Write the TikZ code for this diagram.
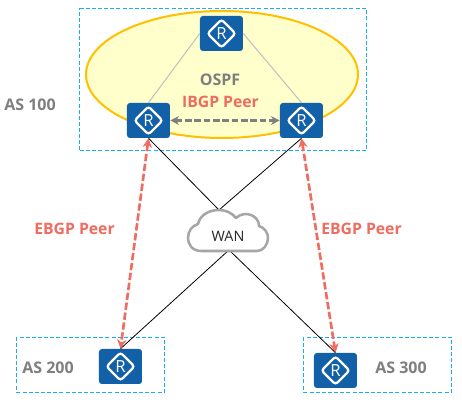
\documentclass[tikz,border=0pt]{standalone}
\usepackage{fontspec}
\setmainfont{Open Sans}
\usetikzlibrary{arrows.meta}
\definecolor{rblue}{HTML}{1160A8}
\definecolor{boxblue}{HTML}{16B0EE}
\definecolor{peer}{HTML}{EF6C60}
\definecolor{gtxt}{HTML}{7F7F7F}
\definecolor{areafill}{HTML}{FFFFCC}
\definecolor{arealine}{HTML}{FFC000}
\tikzset{
  x=0.75pt,y=-0.75pt,
  router/.style={rectangle,rounded corners=2.2pt,fill=rblue,minimum width=32.25pt,minimum height=26.25pt,inner sep=0pt,text=white,font=\fontsize{12.5}{14}\selectfont,
    path picture={\draw[white,line width=1.7pt,line join=miter] (path picture bounding box.center) +(-10.5pt,0) -- +(0,10.5pt) -- +(10.5pt,0) -- +(0,-10.5pt) -- cycle;}},
  asbox/.style={rectangle,inner sep=0pt,draw=boxblue,dash pattern=on 3pt off 1.6pt,line width=0.75pt},
  lbl/.style={font=\bfseries\fontsize{12}{14}\selectfont,text=gtxt,inner sep=0pt},
  peerlbl/.style={font=\bfseries\fontsize{11.8}{14}\selectfont,text=peer,inner sep=0pt},
  wire/.style={black,line width=0.6pt},
  igp/.style={draw=black!25,line width=0.75pt},
  ebgp/.style={{Stealth[length=7pt,width=7pt]}-{Stealth[length=7pt,width=7pt]},peer,line width=2pt,dash pattern=on 5.5pt off 2pt},
  ibgp/.style={{Stealth[length=6.5pt,width=6.5pt]}-{Stealth[length=6.5pt,width=6.5pt]},gtxt,line width=2pt,dash pattern=on 5pt off 2pt},
}
\begin{document}
\begin{tikzpicture}
\useasboundingbox (0,0) rectangle (462,402);
\fill[white] (0,0) rectangle (462,402);
% AS boxes and the OSPF area
\node[asbox,minimum width=214.9pt,minimum height=106.5pt] (as100) at (223.25,80) {};
\node[asbox,minimum width=111pt,minimum height=40.9pt] (as200) at (90.5,364.75) {};
\node[asbox,minimum width=111pt,minimum height=40.9pt] (as300) at (377.5,364.75) {};
\draw[fill=areafill,draw=arealine,line width=1.5pt] (222,74.5) ellipse [x radius=136,y radius=63.5];
% routers
\node[router] (top) at (221.5,33.5) {R};
\node[router] (left) at (148.5,120.5) {R};
\node[router] (right) at (301.5,120.5) {R};
\node[router] (bl) at (120.5,366.5) {R};
\node[router] (br) at (335.5,370.5) {R};
% cloud anchors
\coordinate (cloudtop) at (219,210);
\coordinate (cloudbot) at (229,250);
% connectors
\draw[igp] (top.west) -- (left.north);
\draw[igp] (top.east) -- (right.north);
\draw[wire] (left.south) -- (cloudtop);
\draw[wire] (right.south) -- (cloudtop);
\draw[wire] (cloudbot) -- (bl.north);
\draw[wire] (cloudbot) -- (br.north);
% cloud
\draw[fill=white,draw=black!35,line width=1.9pt,line join=round]
  (201,251) .. controls (192,251) and (188,244) .. (188,238)
  .. controls (188,231) and (192,226) .. (198,224)
  .. controls (200,215) and (209,210) .. (219,210)
  .. controls (226,210) and (232,213) .. (236,218)
  .. controls (240,214) and (247,213) .. (251,215)
  .. controls (256,217) and (259,221) .. (259,226)
  .. controls (265,228) and (268,233) .. (268,238)
  .. controls (268,245) and (263,251) .. (257,251) -- cycle;
\node[inner sep=0pt,font=\fontsize{10.8}{12}\selectfont,text=black!85] (wan) at (228,236) {WAN};
% peer arrows
\draw[ebgp] (left.south) -- (bl.north);
\draw[ebgp] (right.south) -- (br.north);
\draw[ibgp] (left.east) -- (right.west);
% labels
\node[lbl] (l100) at (30,105) {AS 100};
\node[lbl] (l200) at (48,367.5) {AS 200};
\node[lbl] (l300) at (401,368) {AS 300};
\node[lbl] (ospf) at (220,79.5) {OSPF};
\node[peerlbl] (ib) at (220.5,102) {IBGP Peer};
\node[peerlbl] (eb1) at (74.5,228.5) {EBGP Peer};
\node[peerlbl] (eb2) at (361.5,228.5) {EBGP Peer};
\end{tikzpicture}
\end{document}
